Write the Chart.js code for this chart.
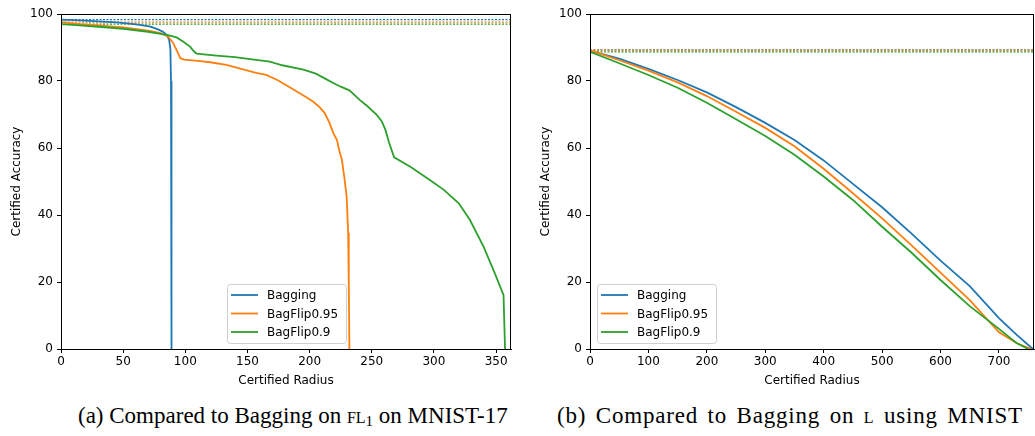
<!DOCTYPE html>
<html>
<head>
<meta charset="utf-8">
<script src="https://cdn.jsdelivr.net/npm/chart.js@4.4.1/dist/chart.umd.min.js"></script>
<style>
  body { margin: 0; background: #fff; width: 1035px; height: 436px; overflow: hidden; position: relative; }
  canvas { position: absolute; top: 0; }
  #left { left: 0; }
  #right { left: 529px; }
  .cap { position: absolute; top: 403px; font-family: "Liberation Serif", serif; font-size: 23px; white-space: nowrap; color: #000; }
  .sc { font-variant: small-caps; }
  sub { font-size: 15px; vertical-align: -3px; line-height: 0; }
</style>
</head>
<body>
<canvas id="left" width="520" height="400"></canvas>
<canvas id="right" width="506" height="400"></canvas>
<div class="cap" style="left:78px">(a) Compared to Bagging on <span class="sc">fl</span><sub>1</sub> on MNIST-17</div>
<div class="cap" style="left:557px; letter-spacing:0.8px; word-spacing:3px">(b) Compared to Bagging on <span class="sc">l</span> using MNIST</div>
<script>
const seriesNames = ['Bagging', 'BagFlip0.95', 'BagFlip0.9'];
const colors = ['#1f77b4', '#ff7f0e', '#2ca02c'];
const yTicks = [0, 20, 40, 60, 80, 100];

// (a) FL1 on MNIST-17  -- [radius, accuracy]
const leftBagging = [[0,98.3],[15,98.1],[30,97.8],[45,97.5],[55,97.1],[62,96.8],[72,96.2],[78,95.4],[82,94.7],[85,93.8],[87,92.3],[88,89.5],[88.5,80],[88.8,40],[89,0]];
const leftFlip095 = [[0,97.6],[15,97.0],[30,96.6],[50,96.0],[70,95.0],[80,94.3],[86,93.3],[90,91.5],[93,89.2],[96,86.8],[99,86.4],[110,86.0],[120,85.6],[133,84.8],[145,83.6],[157,82.4],[165,81.8],[174,80.3],[182,78.6],[190,76.8],[197,75.2],[203,73.8],[208,72.2],[212,70.5],[216,67.5],[219,64.5],[222,62.4],[224,59],[226,56.4],[228,51],[229.8,45.5],[231,34.6],[231.5,20],[232,0]];
const leftFlip09 = [[0,97.0],[15,96.6],[30,96.2],[50,95.6],[70,94.7],[80,94.1],[86,93.7],[93,93.0],[98.5,91.7],[104,90.2],[107,88.8],[109,88.2],[125,87.6],[140,87.1],[152,86.5],[168,85.8],[178,84.7],[195,83.4],[205,82.2],[214,80.4],[219,79.4],[225,78.3],[232,77.2],[240.5,74.3],[247,72.3],[254,69.9],[258,68],[261,65.4],[264,61.5],[268,57.2],[281,54.4],[297,50.4],[308,47.5],[320,43.5],[329,38.5],[340,30.5],[349,22.6],[356,16.1],[357.2,0]];
const leftBaselines = [98.3, 97.6, 97.0];
const leftXTicks = [0, 50, 100, 150, 200, 250, 300, 350];
const leftXMax = 362;

// (b) L using MNIST
const rightBagging = [[0,89.0],[50,86.7],[100,83.6],[150,80.3],[200,76.6],[250,72.2],[300,67.5],[350,62.4],[400,56.3],[450,49.3],[500,42.3],[550,34.5],[600,26.4],[650,18.8],[700,9.2],[730,4.3],[758,0]];
const rightFlip095 = [[0,89.2],[50,86.2],[100,83.1],[150,79.6],[200,75.5],[250,70.8],[300,66.0],[350,60.5],[400,53.8],[450,46.5],[500,39.0],[550,31.0],[600,22.8],[650,14.6],[700,5.0],[730,1.8],[755,0]];
const rightFlip09 = [[0,88.7],[50,85.3],[100,81.8],[150,78.0],[200,73.5],[250,68.6],[300,63.6],[350,58.0],[400,51.5],[450,44.5],[500,36.5],[550,28.8],[600,20.6],[650,12.8],[700,6.0],[730,1.8],[750,0]];
const rightBaselines = [89.3, 89.2, 88.7];
const rightXTicks = [0, 100, 200, 300, 400, 500, 600, 700];
const rightXMax = 760;

const font = { family: "'DejaVu Sans', sans-serif", size: 12 };

function framePlugin(legendLeft) {
  return {
    id: 'frame',
    afterDatasetsDraw(chart) {
      const { ctx, chartArea: a } = chart;
      ctx.save();
      ctx.strokeStyle = '#000';
      ctx.lineWidth = 1;
      ctx.strokeRect(Math.round(a.left) + 0.5, Math.round(a.top) + 0.5, Math.round(a.right - a.left) - 1, Math.round(a.bottom - a.top));
      // legend box
      const bx = a.left + legendLeft, bw = 119, bh = 59, by = a.bottom - 6 - bh;
      ctx.beginPath();
      ctx.roundRect(bx + 0.5, by + 0.5, bw, bh, 3);
      ctx.fillStyle = 'rgba(255,255,255,0.85)';
      ctx.fill();
      ctx.strokeStyle = '#d0d0d0';
      ctx.stroke();
      ctx.font = "12px 'DejaVu Sans', sans-serif";
      ctx.textBaseline = 'middle';
      ctx.fillStyle = '#000';
      seriesNames.forEach((name, i) => {
        const y = by + 11 + i * 18.5;
        ctx.beginPath();
        ctx.moveTo(bx + 4, y);
        ctx.lineTo(bx + 31, y);
        ctx.strokeStyle = colors[i];
        ctx.lineWidth = 1.8;
        ctx.stroke();
        ctx.fillText(name, bx + 40, y + 1);
      });
      ctx.restore();
    }
  };
}

function makeChart(id, curves, baselines, xTicks, xMax, legendLeft) {
  const datasets = [];
  curves.forEach((pts, i) => {
    datasets.push({
      data: pts.map(p => ({ x: p[0], y: p[1] })),
      borderColor: colors[i],
      borderWidth: 1.8,
      pointRadius: 0,
      fill: false,
      tension: 0,
      order: 3 - i
    });
  });
  baselines.forEach((v, i) => {
    datasets.push({
      data: [{ x: 0, y: v }, { x: xMax, y: v }],
      borderColor: colors[i],
      borderWidth: 1.3,
      borderDash: [2, 1.5],
      pointRadius: 0,
      fill: false,
      order: 6 - i
    });
  });

  return new Chart(document.getElementById(id), {
    type: 'line',
    data: { datasets },
    options: {
      responsive: false,
      devicePixelRatio: 1,
      animation: false,
      layout: { padding: { top: 14, right: id === 'left' ? 9 : 1, left: 0, bottom: 0 } },
      plugins: { legend: { display: false }, tooltip: { enabled: false } },
      scales: {
        x: {
          type: 'linear',
          min: 0,
          max: xMax,
          afterFit: s => { s.height = 51; },
          afterBuildTicks: s => { s.ticks = xTicks.map(v => ({ value: v })); },
          ticks: { font, color: '#000', padding: 2, maxRotation: 0, includeBounds: false },
          grid: { drawOnChartArea: false, drawTicks: true, tickLength: 4, color: '#000' },
          border: { display: true, color: '#000' },
          title: { display: true, text: 'Certified Radius', font, color: '#000', padding: { top: 0, bottom: 12 } }
        },
        y: {
          min: 0,
          max: 100,
          afterFit: s => { s.width = 61; },
          afterBuildTicks: s => { s.ticks = yTicks.map(v => ({ value: v })); },
          ticks: { font, color: '#000', padding: 4 },
          grid: { drawOnChartArea: false, drawTicks: true, tickLength: 4, color: '#000' },
          border: { display: true, color: '#000' },
          title: { display: true, text: 'Certified Accuracy', font, color: '#000', padding: { top: 10, bottom: 0 } }
        }
      }
    },
    plugins: [framePlugin(legendLeft)]
  });
}

makeChart('left', [leftBagging, leftFlip095, leftFlip09], leftBaselines, leftXTicks, leftXMax, 166);
makeChart('right', [rightBagging, rightFlip095, rightFlip09], rightBaselines, rightXTicks, rightXMax, 7);
</script>
</body>
</html>
